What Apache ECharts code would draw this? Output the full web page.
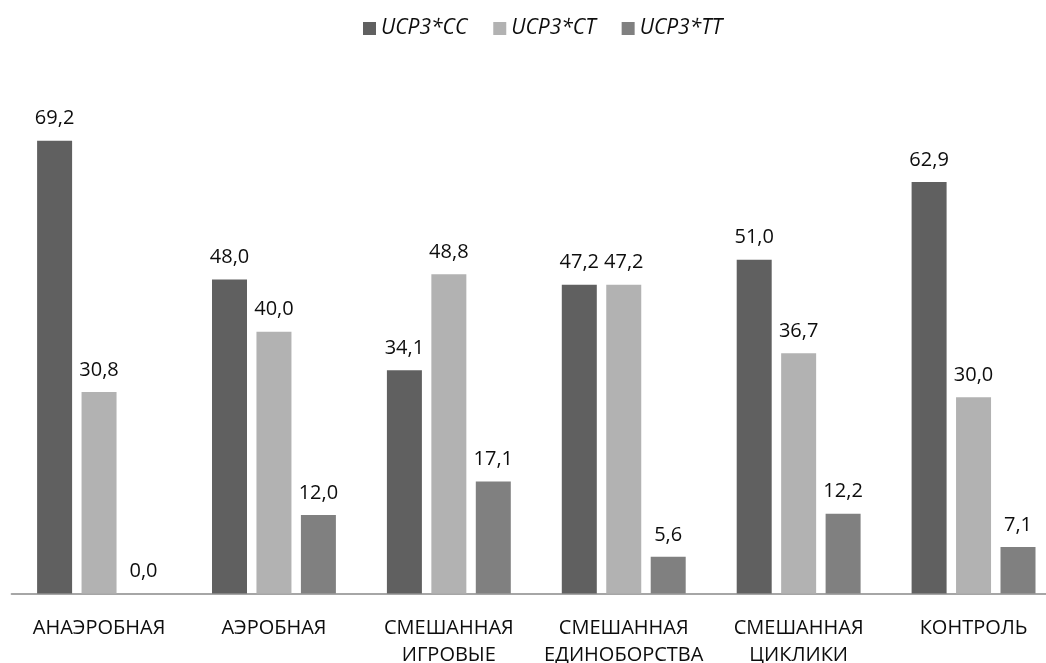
<!DOCTYPE html>
<html>
<head>
<meta charset="utf-8">
<script src="https://cdn.jsdelivr.net/npm/echarts@6/dist/echarts.min.js"></script>
<style>
  html, body { margin: 0; padding: 0; background: #fff; }
  #chart { width: 1046px; height: 663px; }
</style>
</head>
<body>
<div id="chart"></div>
<script>
// Genotype frequencies (%) by sport group
const categories = ['АНАЭРОБНАЯ', 'АЭРОБНАЯ', 'СМЕШАННАЯ\nИГРОВЫЕ', 'СМЕШАННАЯ\nЕДИНОБОРСТВА', 'СМЕШАННАЯ\nЦИКЛИКИ', 'КОНТРОЛЬ'];
const seriesNames = ['UCP3*CC', 'UCP3*CT', 'UCP3*TT'];
const valuesCC = [69.2, 48.0, 34.1, 47.2, 51.0, 62.9];
const valuesCT = [30.8, 40.0, 48.8, 47.2, 36.7, 30.0];
const valuesTT = [0.0, 12.0, 17.1, 5.6, 12.2, 7.1];
const colors = ['#606060', '#b2b2b2', '#808080'];

const font = '"Open Sans", "Noto Sans", sans-serif';

function makeSeries(name, data, color) {
  return {
    name: name,
    type: 'bar',
    data: data,
    barWidth: 35,
    barGap: '27%',
    itemStyle: { color: color },
    label: {
      show: true,
      position: 'top',
      distance: 12,
      fontFamily: font,
      fontSize: 20,
      color: '#0d0d0d',
      formatter: p => p.value.toFixed(1).replace('.', ',')
    }
  };
}

const chart = echarts.init(document.getElementById('chart'), null, { renderer: 'canvas' });
chart.setOption({
  animation: false,
  legend: {
    top: 13,
    left: 358,
    itemWidth: 13,
    itemHeight: 13,
    itemGap: 26,
    icon: 'rect',
    textStyle: { fontFamily: font, fontSize: 21, fontStyle: 'italic', color: '#0d0d0d' },
    data: seriesNames
  },
  grid: {
    left: 11.6,
    top: 70,
    width: 1049.4,
    height: 523.5,
    containLabel: false,
    outerBoundsMode: 'none'
  },
  xAxis: {
    type: 'category',
    data: categories,
    axisLine: { lineStyle: { color: '#a6a6a6', width: 2 } },
    axisTick: { show: false },
    axisLabel: { fontFamily: font, fontSize: 20, color: '#0d0d0d', margin: 21, lineHeight: 27, interval: 0 }
  },
  yAxis: {
    type: 'value',
    min: 0,
    max: 80,
    show: false,
    splitLine: { show: false }
  },
  series: [
    makeSeries(seriesNames[0], valuesCC, colors[0]),
    makeSeries(seriesNames[1], valuesCT, colors[1]),
    makeSeries(seriesNames[2], valuesTT, colors[2])
  ]
});
</script>
</body>
</html>
